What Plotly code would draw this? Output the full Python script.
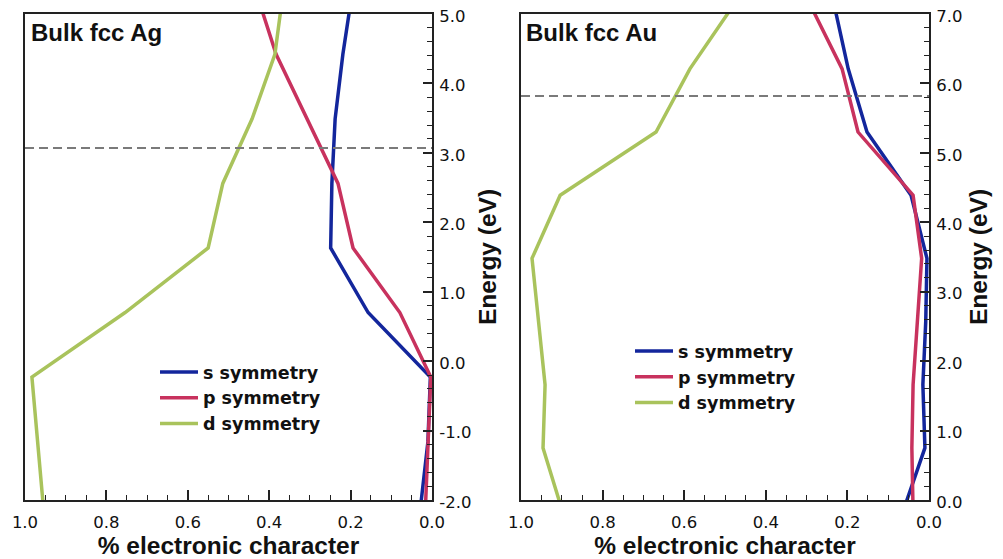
import plotly.graph_objects as go

# ---------------- data ----------------
ag_energy = [-2.09, -1.16, -0.23, 0.70, 1.63, 2.56, 3.49, 4.42, 5.35]
ag_s = [0.028, 0.010, 0.004, 0.157, 0.249, 0.246, 0.238, 0.219, 0.195]
ag_p = [0.016, 0.010, 0.003, 0.079, 0.194, 0.231, 0.307, 0.383, 0.434]
ag_d = [0.955, 0.968, 0.983, 0.754, 0.550, 0.514, 0.442, 0.386, 0.365]
ag_fermi = 3.07

au_energy = [-0.17, 0.75, 1.66, 2.57, 3.48, 4.39, 5.30, 6.21, 7.12]
au_s = [0.064, 0.010, 0.015, 0.008, 0.005, 0.044, 0.152, 0.198, 0.232]
au_p = [0.039, 0.042, 0.039, 0.028, 0.018, 0.039, 0.174, 0.213, 0.290]
au_d = [0.898, 0.946, 0.941, 0.957, 0.973, 0.904, 0.669, 0.586, 0.480]
au_fermi = 5.82

series_names = ["s symmetry", "p symmetry", "d symmetry"]
series_colors = ["#13269c", "#c8325e", "#a9c35c"]

ag_ticks = [-2.0, -1.0, 0.0, 1.0, 2.0, 3.0, 4.0, 5.0]
au_ticks = [0.0, 1.0, 2.0, 3.0, 4.0, 5.0, 6.0, 7.0]
x_ticks = [1.0, 0.8, 0.6, 0.4, 0.2, 0.0]

FONT = "Liberation Sans, Arial, sans-serif"
TICKFONT = "DejaVu Sans, sans-serif"

W, H = 995, 551  # page body has an 8px margin in the 1003x559 window

fig = go.Figure()

panels = [
    (ag_energy, [ag_s, ag_p, ag_d], ag_fermi, "x", "y", "legend"),
    (au_energy, [au_s, au_p, au_d], au_fermi, "x2", "y2", "legend2"),
]
for energy, vals, fermi, xa, ya, lg in panels:
    for name, color, v in zip(series_names, series_colors, vals):
        fig.add_trace(go.Scatter(
            x=v, y=energy, mode="lines", name=name,
            line=dict(color=color, width=3.5),
            xaxis=xa, yaxis=ya, legend=lg, showlegend=True,
            cliponaxis=True,
        ))
    fig.add_trace(go.Scatter(
        x=[1.0, 0.0], y=[fermi, fermi], mode="lines",
        line=dict(color="#7a7a7a", width=2, dash="9px,5px"),
        xaxis=xa, yaxis=ya, showlegend=False, hoverinfo="skip",
    ))

def xaxis_cfg(domain):
    return dict(
        domain=domain, range=[1.0, 0.0], autorange=False, automargin=False,
        tickvals=x_ticks, ticktext=[f"{t:.1f}" for t in x_ticks],
        ticks="inside", ticklen=10, tickwidth=1.5, tickcolor="#222",
        minor=dict(dtick=0.05, ticks="inside", ticklen=5, tickwidth=1.2, tickcolor="#222", tick0=0),
        showline=True, linecolor="#222", linewidth=2, mirror=True,
        showgrid=False, zeroline=False,
        tickfont=dict(family=TICKFONT, size=16.5, color="#111"),
        ticklabelstandoff=6, ticklabeloverflow="allow",
        title=dict(text="% electronic character", standoff=2,
                   font=dict(family=FONT, size=24.5, color="#111", weight="bold")),
    )

def yaxis_cfg(rng, ticks, anchor):
    return dict(
        domain=[1 - 492 / H, 1 - 6 / H], range=rng, autorange=False, anchor=anchor,
        side="right", automargin=False,
        tickvals=ticks, ticktext=[f"{t:.1f}" for t in ticks],
        ticks="inside", ticklen=9, tickwidth=1.5, tickcolor="#222",
        minor=dict(dtick=0.2, ticks="inside", ticklen=5, tickwidth=1.2, tickcolor="#222"),
        showline=True, linecolor="#222", linewidth=2, mirror=True,
        showgrid=False, zeroline=False,
        tickfont=dict(family=TICKFONT, size=16.5, color="#111"),
        ticklabelstandoff=2, ticklabeloverflow="allow", ticklabelshift=2,
        title=dict(text="Energy (eV)", standoff=8,
                   font=dict(family=FONT, size=24.5, color="#111", weight="bold")),
    )

legend_font = dict(family="DejaVu Sans, sans-serif", size=17.5, color="#111", weight="bold")

fig.update_layout(
    width=W, height=H,
    margin=dict(l=0, r=0, t=0, b=0, autoexpand=False),
    paper_bgcolor="white", plot_bgcolor="white",
    xaxis=xaxis_cfg([17 / W, 424 / W]) | dict(anchor="y"),
    xaxis2=xaxis_cfg([513 / W, 921 / W]) | dict(anchor="y2"),
    yaxis=yaxis_cfg([-2.0, 5.0], ag_ticks, "x"),
    yaxis2=yaxis_cfg([0.0, 7.0], au_ticks, "x2"),
    legend=dict(x=147 / W, y=0.372, xanchor="left", yanchor="top",
                bgcolor="rgba(0,0,0,0)", tracegroupgap=0, itemwidth=38,
                font=legend_font),
    legend2=dict(x=622 / W, y=0.410, xanchor="left", yanchor="top",
                 bgcolor="rgba(0,0,0,0)", tracegroupgap=0, itemwidth=38,
                 font=legend_font),
    annotations=[
        dict(text="Bulk fcc Ag", xref="paper", yref="paper", x=21 / W, y=1 - 24 / H,
             xanchor="left", yanchor="middle", showarrow=False,
             font=dict(family=FONT, size=24, color="#111", weight="bold")),
        dict(text="Bulk fcc Au", xref="paper", yref="paper", x=516 / W, y=1 - 24 / H,
             xanchor="left", yanchor="middle", showarrow=False,
             font=dict(family=FONT, size=24, color="#111", weight="bold")),
    ],
)

fig.write_html("out.html")
